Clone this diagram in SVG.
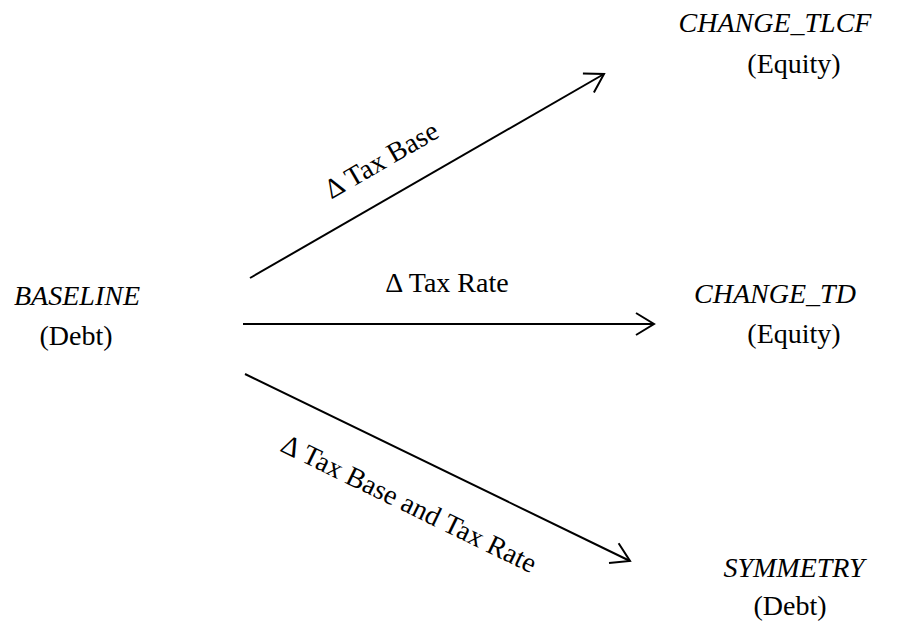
<svg xmlns="http://www.w3.org/2000/svg" width="898" height="626" viewBox="0 0 898 626">
<style>
text{font-family:"Liberation Serif","Times New Roman",serif;font-size:28px;fill:#000;text-anchor:middle}
.it{font-style:italic}
.edge{stroke:#000;stroke-width:2;fill:none;marker-end:url(#arr)}
</style>
<defs>
<marker id="arr" markerUnits="userSpaceOnUse" markerWidth="40" markerHeight="40" refX="0" refY="0" orient="auto" viewBox="-20 -20 40 40" overflow="visible">
<path d="M-18,-11 L0,0 L-18,11" fill="none" stroke="#000" stroke-width="2"/>
</marker>
</defs>
<rect width="898" height="626" fill="#fff"/>
<g id="connectors">
<line class="edge" x1="250" y1="278" x2="604" y2="74"/>
<line class="edge" x1="243" y1="324" x2="654" y2="324"/>
<line class="edge" x1="245" y1="374" x2="630" y2="561"/>
<text x="386" y="168" transform="rotate(-30 386 168)">Δ Tax Base</text>
<text x="447" y="292">Δ Tax Rate</text>
<text x="405" y="512" transform="rotate(26 405 512)">Δ Tax Base and Tax Rate</text>
</g>
<g id="baseline">
<text class="it" x="77" y="305">BASELINE</text>
<text x="76" y="345">(Debt)</text>
</g>
<g id="change_tlcf">
<text class="it" x="775" y="32">CHANGE_TLCF</text>
<text x="794" y="73">(Equity)</text>
</g>
<g id="change_td">
<text class="it" x="775" y="303">CHANGE_TD</text>
<text x="794" y="343">(Equity)</text>
</g>
<g id="symmetry">
<text class="it" x="794" y="577">SYMMETRY</text>
<text x="790" y="615">(Debt)</text>
</g>
</svg>
